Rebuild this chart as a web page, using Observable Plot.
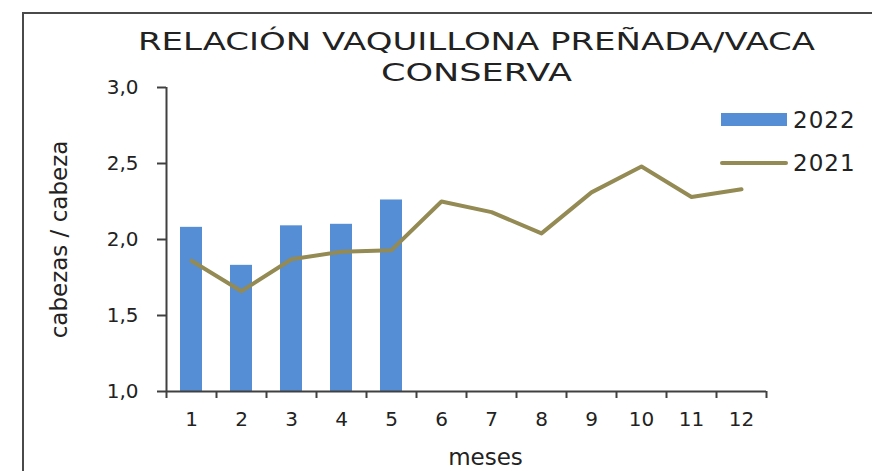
<!DOCTYPE html>
<html>
<head>
<meta charset="utf-8">
<script src="https://cdn.jsdelivr.net/npm/d3@7"></script>
<script src="https://cdn.jsdelivr.net/npm/@observablehq/plot@0.6"></script>
<style>
  html, body { margin: 0; padding: 0; background: #fff; }
  #wrap { position: relative; width: 872px; height: 471px; overflow: hidden; font-family: "DejaVu Sans", sans-serif; color: #222; }
  #frame { position: absolute; left: 22px; top: 12px; width: 900px; height: 500px; border-left: 2px solid #4a4a4a; border-top: 2px solid #4a4a4a; pointer-events: none; }
  .leg { position: absolute; font-size: 23px; line-height: 1; color: #222; letter-spacing: 1px; }
  .sw { position: absolute; }
</style>
</head>
<body>
<div id="wrap">
  <div id="chart"></div>
  <div id="frame"></div>
  <div class="sw" style="left:721px;top:113px;width:66px;height:13px;background:#558ED5"></div>
  <div class="leg" style="left:793px;top:109px">2022</div>
  <div class="sw" style="left:720px;top:161px;width:68px;height:4px;border-radius:2px;background:#948A54"></div>
  <div class="leg" style="left:793px;top:152px">2021</div>
</div>
<script>
const months = [1, 2, 3, 4, 5, 6, 7, 8, 9, 10, 11, 12];
const values2022 = [2.08, 1.83, 2.09, 2.10, 2.26];
const values2021 = [1.86, 1.66, 1.87, 1.92, 1.93, 2.25, 2.18, 2.04, 2.31, 2.48, 2.28, 2.33];
const yTicks = [1.0, 1.5, 2.0, 2.5, 3.0];
const titleLines = ["RELACIÓN VAQUILLONA PREÑADA/VACA", "CONSERVA"];
const titleWidths = [677, 191];
const yLabel = "cabezas / cabeza";
const xLabel = "meses";

const bars = values2022.map((v, i) => ({m: months[i], v}));
const line = values2021.map((v, i) => ({m: months[i], v}));
const bounds = [0.5, ...months.map(m => m + 0.5)];
const axisColor = "#404040";

const chart = Plot.plot({
  width: 872,
  height: 471,
  marginLeft: 166,
  marginRight: 106,
  marginTop: 87,
  marginBottom: 80,
  style: {fontFamily: "DejaVu Sans, sans-serif", fontSize: "20px", color: "#222", background: "transparent"},
  x: {type: "linear", domain: [0.5, 12.5]},
  y: {domain: [1, 3]},
  marks: [
    Plot.rectY(bars, {x1: d => d.m - 0.5, x2: d => d.m + 0.5, y1: 1, y2: "v", fill: "#558ED5", insetLeft: 14, insetRight: 14}),
    Plot.line(line, {x: "m", y: "v", stroke: "#948A54", strokeWidth: 4, strokeLinejoin: "round", strokeLinecap: "round"}),
    Plot.ruleX([0.5], {stroke: axisColor, strokeWidth: 2}),
    Plot.ruleY([1], {stroke: axisColor, strokeWidth: 2}),
    Plot.axisY({ticks: yTicks, tickSize: 9, tickPadding: 19, tickFormat: d => d.toFixed(1).replace(".", ","), label: null, stroke: axisColor, strokeWidth: 2, fontSize: 20, letterSpacing: "2px"}),
    Plot.axisX({ticks: bounds, tickSize: 7, tickFormat: () => "", label: null, stroke: axisColor, strokeWidth: 2}),
    Plot.axisX({ticks: months, tickSize: 0, tickPadding: 20, tickFormat: d => String(d), label: null, fontSize: 20, letterSpacing: "1px"}),
    Plot.text([yLabel], {frameAnchor: "left", textAnchor: "middle", lineAnchor: "middle", dx: -107, rotate: -90, fontSize: 23, fill: "#222"}),
    Plot.text([xLabel], {frameAnchor: "bottom", lineAnchor: "middle", dx: 19, dy: 66, fontSize: 23, fill: "#222"}),
    Plot.text([titleLines[0]], {frameAnchor: "top", lineAnchor: "middle", dx: 10, dy: -46, fontSize: 25, fill: "#222"}),
    Plot.text([titleLines[1]], {frameAnchor: "top", lineAnchor: "middle", dx: 10, dy: -14.5, fontSize: 25, fill: "#222"})
  ]
});
document.getElementById("chart").appendChild(chart);
// stretch the title lines to the reference widths (wide geometric typeface)
titleLines.forEach((t, i) => {
  d3.select(chart).selectAll("text").filter(function () { return this.textContent === t; })
    .attr("textLength", titleWidths[i]).attr("lengthAdjust", "spacingAndGlyphs");
});
</script>
</body>
</html>
